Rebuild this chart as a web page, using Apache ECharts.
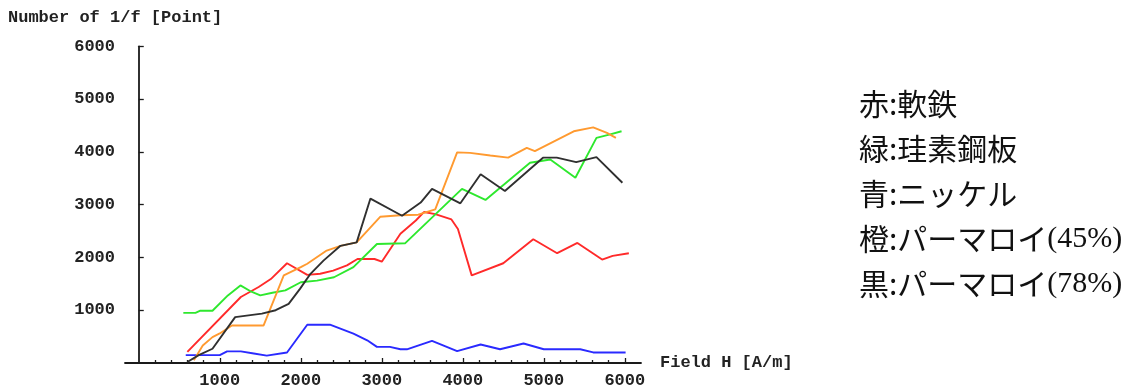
<!DOCTYPE html>
<html>
<head>
<meta charset="utf-8">
<script src="https://cdn.jsdelivr.net/npm/echarts@6/dist/echarts.min.js"></script>
<style>
html,body{margin:0;padding:0;background:#fff;}
#chart{width:1135px;height:389px;}
</style>
</head>
<body>
<div id="chart"></div>
<script>
// ---- data ----
const redX = [600, 1260, 1480, 1630, 1830, 2080, 2240, 2400, 2570, 2700, 2910, 3000, 3230, 3420, 3520, 3660, 3860, 3940, 4110, 4500, 4870, 5165, 5415, 5720, 5850, 6050];
const redY = [210, 1250, 1440, 1590, 1890, 1670, 1690, 1750, 1850, 1970, 1970, 1920, 2450, 2700, 2860, 2820, 2720, 2540, 1660, 1890, 2345, 2080, 2275, 1960, 2030, 2080];

const greenX = [550, 700, 760, 910, 1100, 1255, 1390, 1500, 1650, 1810, 2000, 2200, 2410, 2650, 2940, 3290, 3990, 4280, 4830, 5080, 5390, 5650, 5820, 5960];
const greenY = [950, 950, 990, 990, 1280, 1470, 1350, 1280, 1330, 1375, 1530, 1560, 1625, 1815, 2255, 2270, 3300, 3090, 3795, 3855, 3510, 4265, 4330, 4390];

const blueX = [580, 1000, 1090, 1260, 1420, 1580, 1830, 2080, 2360, 2650, 2820, 2940, 3100, 3230, 3310, 3620, 3930, 4220, 4460, 4750, 5000, 5450, 5610, 6010];
const blueY = [150, 150, 220, 220, 180, 140, 200, 725, 725, 555, 430, 305, 305, 260, 260, 420, 225, 350, 260, 370, 260, 260, 200, 200];

const orangeX = [680, 790, 910, 1000, 1150, 1540, 1790, 2000, 2080, 2320, 2490, 2690, 2980, 3230, 3450, 3660, 3930, 4090, 4340, 4560, 4790, 4890, 5370, 5610, 5780, 5890];
const orangeY = [50, 330, 490, 560, 710, 710, 1660, 1815, 1880, 2130, 2220, 2285, 2770, 2800, 2810, 2910, 3990, 3980, 3930, 3890, 4075, 4015, 4390, 4465, 4360, 4265];

const blackX = [600, 740, 910, 1190, 1520, 1690, 1850, 1990, 2120, 2280, 2490, 2690, 2860, 3250, 3480, 3620, 3970, 4220, 4520, 4990, 5160, 5400, 5650, 5970];
const blackY = [20, 150, 270, 870, 935, 1000, 1120, 1405, 1690, 1940, 2220, 2285, 3115, 2790, 3040, 3300, 3025, 3575, 3260, 3890, 3890, 3805, 3900, 3415];

const xMajorTicks = [1000, 2000, 3000, 4000, 5000, 6000];
const xMinorTicks = [200, 400, 600, 800, 1200, 1400, 1600, 1800, 2200, 2400, 2600, 2800, 3200, 3400, 3600, 3800, 4200, 4400, 4600, 4800, 5200, 5400, 5600, 5800];
const yTicks = [1000, 2000, 3000, 4000, 5000, 6000];

const yTitle = 'Number of 1/f [Point]';
const xTitle = 'Field H [A/m]';
const noteMain = ['赤:軟鉄', '緑:珪素鋼板', '青:ニッケル', '橙:パーマロイ', '黒:パーマロイ'];
const notePct = ['', '', '', '(45%)', '(78%)'];

const seriesNames = ['red', 'green', 'blue', 'orange', 'black'];
const seriesColors = ['#ff2a2a', '#2ee82e', '#2a2aff', '#ff9a30', '#303030'];
const seriesXs = [redX, greenX, blueX, orangeX, blackX];
const seriesYs = [redY, greenY, blueY, orangeY, blackY];

// ---- chart ----
const monoFont = {fontFamily: 'Liberation Mono', fontWeight: 'bold', fontSize: 17, color: '#222'};
const plain = v => String(v);
const chart = echarts.init(document.getElementById('chart'), null, {renderer: 'canvas'});

const series = seriesNames.map((n, i) => ({
  name: n,
  type: 'line',
  xAxisIndex: 0,
  yAxisIndex: 0,
  showSymbol: false,
  symbol: 'none',
  silent: true,
  lineStyle: {color: seriesColors[i], width: 1.9},
  data: seriesXs[i].map((x, j) => [x, seriesYs[i][j]])
}));

const noteGraphics = noteMain.map((t, i) => ({
  type: 'text',
  left: 859,
  top: 107 + i * 45 - 18,
  style: {
    text: '{a|' + t + '}' + (notePct[i] ? '{b|' + notePct[i] + '}' : ''),
    rich: {
      a: {fontFamily: 'Noto Sans CJK JP', fontSize: 30, fill: '#111', color: '#111'},
      b: {fontFamily: 'Liberation Serif', fontSize: 30, fill: '#111', color: '#111'}
    }
  }
}));

chart.setOption({
  animation: false,
  backgroundColor: '#fff',
  title: {
    text: yTitle,
    left: 8,
    top: 9,
    padding: 0,
    textStyle: monoFont
  },
  grid: {left: 125, right: 494, top: 46.3, bottom: 24.5},
  xAxis: [{
    type: 'value',
    min: -170,
    max: 6200,
    name: xTitle,
    nameLocation: 'end',
    nameGap: 19,
    nameTextStyle: Object.assign({}, monoFont, {verticalAlign: 'middle', align: 'left'}),
    splitLine: {show: false},
    axisLine: {show: true, onZero: true, lineStyle: {color: '#1a1a1a', width: 1.8}},
    axisTick: {show: true, inside: true, length: 5, customValues: xMajorTicks, lineStyle: {color: '#1a1a1a', width: 1.3}},
    axisLabel: Object.assign({margin: 9, customValues: xMajorTicks, formatter: plain}, monoFont)
  }, {
    type: 'value',
    min: -170,
    max: 6200,
    position: 'bottom',
    splitLine: {show: false},
    axisLine: {show: false},
    axisTick: {show: true, inside: true, length: 3, customValues: xMinorTicks, lineStyle: {color: '#1a1a1a', width: 1.3}},
    axisLabel: {show: false}
  }],
  yAxis: {
    type: 'value',
    min: 0,
    max: 6000,
    splitLine: {show: false},
    axisLine: {show: true, onZero: true, lineStyle: {color: '#1a1a1a', width: 1.8}},
    axisTick: {show: true, inside: true, length: 5, customValues: yTicks, lineStyle: {color: '#1a1a1a', width: 1.3}},
    axisLabel: Object.assign({margin: 10, customValues: yTicks, formatter: plain}, monoFont)
  },
  graphic: noteGraphics,
  series: series
});
</script>
</body>
</html>
